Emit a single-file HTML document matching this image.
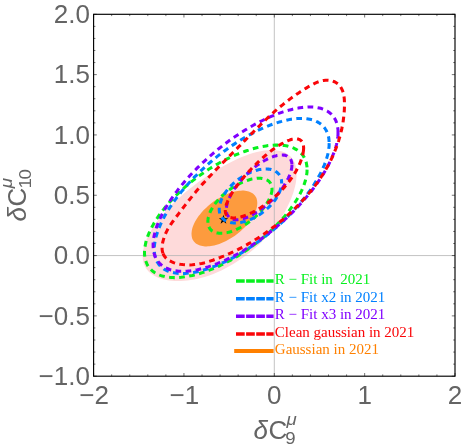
<!DOCTYPE html>
<html><head><meta charset="utf-8"><title>fit contours</title>
<style>html,body{margin:0;padding:0;background:#fff;overflow:hidden}svg{display:block;will-change:transform}</style>
</head><body>
<svg width="463" height="448" viewBox="0 0 463 448">
<rect width="463" height="448" fill="#fff"/>
<path d="M296.4 178.3 L296.1 181.1 L295.6 184.0 L294.9 186.9 L294.1 189.9 L293.2 192.9 L292.1 196.0 L290.9 199.2 L289.5 202.3 L288.0 205.6 L286.4 208.8 L284.6 212.2 L282.6 215.5 L280.5 218.9 L278.1 222.3 L275.7 225.8 L273.0 229.2 L270.1 232.7 L267.1 236.1 L263.9 239.5 L260.6 242.9 L257.1 246.2 L253.4 249.4 L249.7 252.5 L245.8 255.5 L241.8 258.4 L237.8 261.1 L233.7 263.7 L229.6 266.1 L225.5 268.3 L221.4 270.4 L217.3 272.2 L213.3 273.9 L209.3 275.4 L205.4 276.7 L201.6 277.8 L197.9 278.7 L194.3 279.5 L190.8 280.1 L187.4 280.5 L184.1 280.8 L180.9 281.0 L177.8 281.0 L174.8 280.9 L171.9 280.7 L169.1 280.4 L166.4 279.9 L163.8 279.4 L161.2 278.7 L158.9 277.9 L156.6 276.9 L154.4 275.8 L152.4 274.6 L150.5 273.2 L148.8 271.7 L147.3 270.0 L145.9 268.1 L144.8 266.1 L143.9 263.9 L143.2 261.5 L142.8 258.9 L142.6 256.2 L142.8 253.4 L143.1 250.4 L143.8 247.3 L144.7 244.1 L146.0 240.8 L147.4 237.4 L149.2 233.9 L151.1 230.4 L153.3 226.9 L155.7 223.4 L158.3 219.9 L161.1 216.4 L164.0 213.0 L167.1 209.6 L170.3 206.3 L173.6 203.0 L176.9 199.8 L180.4 196.7 L183.9 193.6 L187.5 190.6 L191.1 187.7 L194.7 184.9 L198.4 182.1 L202.2 179.5 L205.9 176.9 L209.7 174.3 L213.6 171.9 L217.5 169.5 L221.4 167.2 L225.3 165.0 L229.3 162.9 L233.2 160.9 L237.2 159.0 L241.2 157.3 L245.2 155.7 L249.1 154.3 L253.0 153.1 L256.9 152.1 L260.6 151.3 L264.2 150.6 L267.8 150.3 L271.1 150.1 L274.4 150.2 L277.4 150.5 L280.2 151.0 L282.9 151.8 L285.3 152.8 L287.4 154.1 L289.4 155.5 L291.1 157.1 L292.5 158.9 L293.8 160.9 L294.8 163.1 L295.5 165.3 L296.1 167.7 L296.4 170.2 L296.6 172.8 L296.6 175.5Z" fill="#fedada"/>
<path d="M257.3 203.1 L257.2 204.4 L257.1 205.6 L256.9 206.9 L256.6 208.3 L256.2 209.7 L255.7 211.1 L255.1 212.5 L254.4 213.9 L253.7 215.4 L252.9 216.8 L252.0 218.3 L251.0 219.7 L250.0 221.2 L248.8 222.6 L247.7 224.1 L246.4 225.5 L245.1 226.9 L243.7 228.3 L242.3 229.6 L240.8 231.0 L239.3 232.2 L237.8 233.5 L236.2 234.7 L234.6 235.9 L232.9 237.0 L231.2 238.1 L229.5 239.1 L227.8 240.0 L226.1 240.9 L224.4 241.8 L222.7 242.5 L221.0 243.2 L219.3 243.9 L217.6 244.5 L215.9 245.0 L214.2 245.4 L212.6 245.7 L211.0 246.0 L209.5 246.2 L208.0 246.3 L206.5 246.4 L205.1 246.4 L203.7 246.3 L202.4 246.1 L201.1 245.8 L200.0 245.5 L198.8 245.1 L197.8 244.6 L196.8 244.1 L195.9 243.5 L195.1 242.8 L194.4 242.0 L193.7 241.2 L193.1 240.3 L192.6 239.4 L192.2 238.4 L191.9 237.3 L191.7 236.2 L191.6 235.1 L191.5 233.9 L191.6 232.6 L191.7 231.4 L191.9 230.1 L192.2 228.7 L192.6 227.3 L193.1 225.9 L193.7 224.5 L194.4 223.1 L195.1 221.6 L195.9 220.2 L196.8 218.7 L197.8 217.3 L198.8 215.8 L200.0 214.4 L201.1 212.9 L202.4 211.5 L203.7 210.1 L205.1 208.7 L206.5 207.4 L208.0 206.0 L209.5 204.8 L211.0 203.5 L212.6 202.3 L214.2 201.1 L215.9 200.0 L217.6 198.9 L219.3 197.9 L221.0 197.0 L222.7 196.1 L224.4 195.2 L226.1 194.5 L227.8 193.8 L229.5 193.1 L231.2 192.5 L232.9 192.0 L234.6 191.6 L236.2 191.3 L237.8 191.0 L239.3 190.8 L240.8 190.7 L242.3 190.6 L243.7 190.6 L245.1 190.7 L246.4 190.9 L247.7 191.2 L248.8 191.5 L250.0 191.9 L251.0 192.4 L252.0 192.9 L252.9 193.5 L253.7 194.2 L254.4 195.0 L255.1 195.8 L255.7 196.7 L256.2 197.6 L256.6 198.6 L256.9 199.7 L257.1 200.8 L257.2 201.9Z" fill="#fd9b3e"/>
<path d="M274.30 14.3 V376.2 M93.6 255.57 H455.0" stroke="#b4b4b4" stroke-width="0.8" fill="none"/>
<polygon points="223.50,214.80 224.62,218.16 228.16,218.19 225.31,220.29 226.38,223.66 223.50,221.60 220.62,223.66 221.69,220.29 218.84,218.19 222.38,218.16" fill="#000"/>
<g fill="none" stroke-width="3.05" stroke-dasharray="5.7 4.4">
<path d="M307.1 169.6 L307.0 170.9 L307.0 172.3 L306.8 173.8 L306.6 175.2 L306.3 176.7 L306.0 178.2 L305.6 179.7 L305.2 181.3 L304.7 182.8 L304.2 184.4 L303.6 186.0 L302.9 187.6 L302.2 189.3 L301.5 190.9 L300.7 192.6 L299.8 194.2 L298.9 195.9 L298.0 197.6 L297.0 199.3 L295.9 201.0 L294.8 202.7 L293.7 204.5 L292.5 206.2 L291.2 207.9 L289.9 209.7 L288.6 211.4 L287.3 213.1 L285.9 214.8 L284.4 216.6 L282.9 218.3 L281.4 220.0 L279.8 221.7 L278.2 223.4 L276.6 225.1 L274.9 226.8 L273.2 228.5 L271.5 230.1 L269.7 231.8 L267.9 233.4 L266.1 235.0 L264.3 236.6 L262.4 238.2 L260.5 239.8 L258.6 241.4 L256.6 242.9 L254.7 244.4 L252.7 245.9 L250.7 247.4 L248.6 248.8 L246.6 250.2 L244.5 251.6 L242.5 253.0 L240.4 254.3 L238.3 255.6 L236.2 256.9 L234.1 258.2 L232.0 259.4 L229.8 260.6 L227.7 261.7 L225.6 262.8 L223.5 263.9 L221.3 265.0 L219.2 266.0 L217.1 266.9 L215.0 267.9 L212.8 268.8 L210.7 269.6 L208.7 270.4 L206.6 271.2 L204.5 271.9 L202.4 272.6 L200.4 273.3 L198.4 273.9 L196.4 274.4 L194.4 274.9 L192.4 275.4 L190.5 275.8 L188.6 276.2 L186.7 276.5 L184.8 276.8 L183.0 277.1 L181.2 277.3 L179.4 277.4 L177.7 277.5 L176.0 277.6 L174.3 277.6 L172.7 277.5 L171.1 277.4 L169.5 277.3 L168.0 277.1 L166.6 276.9 L165.1 276.7 L163.7 276.3 L162.4 276.0 L161.1 275.6 L159.8 275.1 L158.6 274.6 L157.4 274.1 L156.3 273.5 L155.2 272.9 L154.2 272.3 L153.2 271.6 L152.3 270.8 L151.4 270.0 L150.6 269.2 L149.8 268.4 L149.1 267.5 L148.4 266.5 L147.8 265.6 L147.2 264.5 L146.7 263.5 L146.3 262.4 L145.9 261.3 L145.5 260.2 L145.2 259.0 L145.0 257.8 L144.8 256.5 L144.6 255.3 L144.5 253.9 L144.5 252.6 L144.5 251.3 L144.6 249.9 L144.7 248.5 L144.9 247.0 L145.2 245.6 L145.5 244.1 L145.8 242.6 L146.2 241.0 L146.7 239.5 L147.2 237.9 L147.7 236.3 L148.4 234.7 L149.0 233.1 L149.8 231.5 L150.5 229.8 L151.4 228.1 L152.2 226.5 L153.2 224.8 L154.1 223.1 L155.2 221.4 L156.2 219.6 L157.4 217.9 L158.5 216.2 L159.7 214.5 L161.0 212.7 L162.3 211.0 L163.7 209.3 L165.1 207.5 L166.5 205.8 L168.0 204.1 L169.5 202.3 L171.1 200.6 L172.7 198.9 L174.3 197.2 L176.0 195.5 L177.7 193.8 L179.4 192.1 L181.2 190.5 L183.0 188.8 L184.9 187.2 L186.7 185.6 L188.6 184.0 L190.5 182.4 L192.5 180.9 L194.4 179.4 L196.4 177.9 L198.4 176.4 L200.4 174.9 L202.5 173.5 L204.5 172.1 L206.6 170.7 L208.7 169.3 L210.8 168.0 L212.9 166.7 L215.0 165.5 L217.1 164.2 L219.2 163.0 L221.3 161.9 L223.5 160.7 L225.6 159.6 L227.7 158.6 L229.8 157.6 L232.0 156.6 L234.1 155.6 L236.2 154.7 L238.3 153.8 L240.4 153.0 L242.5 152.2 L244.5 151.5 L246.6 150.7 L248.6 150.1 L250.7 149.4 L252.7 148.8 L254.7 148.3 L256.6 147.8 L258.6 147.3 L260.5 146.9 L262.4 146.5 L264.3 146.2 L266.1 145.9 L268.0 145.6 L269.8 145.4 L271.5 145.3 L273.3 145.2 L275.0 145.1 L276.7 145.1 L278.3 145.1 L279.9 145.1 L281.5 145.2 L283.0 145.4 L284.5 145.6 L286.0 145.8 L287.4 146.1 L288.8 146.5 L290.1 146.8 L291.4 147.2 L292.6 147.7 L293.8 148.2 L295.0 148.8 L296.1 149.4 L297.1 150.0 L298.1 150.7 L299.1 151.4 L300.0 152.2 L300.8 153.0 L301.6 153.8 L302.4 154.7 L303.1 155.6 L303.7 156.6 L304.3 157.6 L304.8 158.6 L305.3 159.7 L305.7 160.8 L306.1 162.0 L306.4 163.2 L306.6 164.4 L306.8 165.6 L307.0 166.9 L307.1 168.2Z" stroke="#06f01e"/>
<path d="M272.0 189.2 L272.0 189.8 L271.9 190.4 L271.9 191.0 L271.8 191.7 L271.6 192.3 L271.5 193.0 L271.3 193.6 L271.2 194.3 L271.0 194.9 L270.7 195.6 L270.5 196.3 L270.2 197.0 L269.9 197.7 L269.6 198.4 L269.3 199.1 L268.9 199.8 L268.5 200.5 L268.1 201.2 L267.7 201.9 L267.3 202.7 L266.9 203.4 L266.4 204.1 L265.9 204.8 L265.4 205.5 L264.9 206.3 L264.4 207.0 L263.8 207.7 L263.3 208.4 L262.7 209.1 L262.1 209.8 L261.5 210.5 L260.9 211.2 L260.3 211.9 L259.6 212.6 L259.0 213.3 L258.3 214.0 L257.6 214.7 L256.9 215.3 L256.2 216.0 L255.5 216.7 L254.8 217.3 L254.0 218.0 L253.3 218.6 L252.6 219.2 L251.8 219.9 L251.0 220.5 L250.2 221.1 L249.5 221.7 L248.7 222.2 L247.9 222.8 L247.1 223.4 L246.3 223.9 L245.4 224.5 L244.6 225.0 L243.8 225.5 L243.0 226.0 L242.1 226.5 L241.3 227.0 L240.4 227.5 L239.6 227.9 L238.8 228.3 L237.9 228.7 L237.1 229.1 L236.2 229.5 L235.4 229.9 L234.6 230.3 L233.7 230.6 L232.9 230.9 L232.1 231.2 L231.3 231.5 L230.5 231.7 L229.7 232.0 L228.8 232.2 L228.1 232.4 L227.3 232.6 L226.5 232.7 L225.7 232.9 L225.0 233.0 L224.2 233.1 L223.5 233.2 L222.8 233.3 L222.1 233.3 L221.4 233.3 L220.7 233.3 L220.0 233.3 L219.4 233.3 L218.7 233.2 L218.1 233.1 L217.5 233.0 L216.9 232.9 L216.4 232.8 L215.8 232.6 L215.3 232.5 L214.7 232.3 L214.2 232.1 L213.8 231.8 L213.3 231.6 L212.8 231.3 L212.4 231.1 L212.0 230.8 L211.6 230.5 L211.2 230.1 L210.9 229.8 L210.5 229.4 L210.2 229.1 L209.9 228.7 L209.7 228.3 L209.4 227.8 L209.2 227.4 L208.9 227.0 L208.7 226.5 L208.6 226.0 L208.4 225.6 L208.3 225.1 L208.2 224.5 L208.1 224.0 L208.0 223.5 L207.9 222.9 L207.9 222.4 L207.9 221.8 L207.9 221.2 L207.9 220.7 L207.9 220.1 L208.0 219.5 L208.1 218.8 L208.2 218.2 L208.3 217.6 L208.5 216.9 L208.6 216.3 L208.8 215.6 L209.0 215.0 L209.3 214.3 L209.5 213.6 L209.8 212.9 L210.1 212.2 L210.4 211.5 L210.7 210.8 L211.1 210.1 L211.5 209.4 L211.9 208.7 L212.3 208.0 L212.7 207.3 L213.2 206.5 L213.6 205.8 L214.1 205.1 L214.6 204.4 L215.2 203.7 L215.7 202.9 L216.3 202.2 L216.9 201.5 L217.5 200.8 L218.1 200.1 L218.7 199.4 L219.3 198.7 L220.0 198.0 L220.7 197.3 L221.4 196.6 L222.1 195.9 L222.8 195.2 L223.5 194.6 L224.3 193.9 L225.0 193.3 L225.8 192.6 L226.5 192.0 L227.3 191.4 L228.1 190.8 L228.9 190.2 L229.7 189.6 L230.5 189.0 L231.3 188.5 L232.1 187.9 L233.0 187.4 L233.8 186.9 L234.6 186.3 L235.4 185.9 L236.3 185.4 L237.1 184.9 L237.9 184.5 L238.8 184.0 L239.6 183.6 L240.4 183.2 L241.3 182.8 L242.1 182.4 L242.9 182.1 L243.8 181.7 L244.6 181.4 L245.4 181.1 L246.2 180.8 L247.0 180.5 L247.8 180.2 L248.6 180.0 L249.4 179.7 L250.2 179.5 L251.0 179.3 L251.8 179.1 L252.5 179.0 L253.3 178.8 L254.1 178.7 L254.8 178.6 L255.5 178.5 L256.3 178.4 L257.0 178.3 L257.7 178.3 L258.4 178.3 L259.0 178.3 L259.7 178.3 L260.4 178.3 L261.0 178.3 L261.6 178.4 L262.3 178.5 L262.9 178.6 L263.4 178.7 L264.0 178.8 L264.6 179.0 L265.1 179.2 L265.6 179.4 L266.1 179.6 L266.6 179.8 L267.1 180.0 L267.5 180.3 L268.0 180.6 L268.4 180.9 L268.8 181.2 L269.1 181.6 L269.5 181.9 L269.8 182.3 L270.1 182.7 L270.4 183.1 L270.7 183.5 L270.9 184.0 L271.1 184.4 L271.3 184.9 L271.5 185.4 L271.6 185.9 L271.7 186.4 L271.8 186.9 L271.9 187.5 L272.0 188.1 L272.0 188.6Z" stroke="#06f01e"/>
<path d="M329.2 143.2 L329.1 144.7 L329.1 146.2 L328.9 147.8 L328.7 149.4 L328.5 151.0 L328.1 152.7 L327.8 154.4 L327.3 156.1 L326.8 157.9 L326.3 159.6 L325.7 161.4 L325.0 163.3 L324.3 165.1 L323.5 167.0 L322.6 168.9 L321.7 170.8 L320.8 172.7 L319.8 174.6 L318.7 176.6 L317.6 178.6 L316.5 180.6 L315.2 182.5 L314.0 184.6 L312.7 186.6 L311.3 188.6 L309.9 190.6 L308.4 192.6 L306.9 194.7 L305.4 196.7 L303.8 198.7 L302.1 200.8 L300.4 202.8 L298.7 204.8 L296.9 206.8 L295.1 208.8 L293.3 210.8 L291.4 212.8 L289.5 214.8 L287.6 216.8 L285.6 218.7 L283.6 220.6 L281.6 222.6 L279.5 224.4 L277.4 226.3 L275.3 228.2 L273.2 230.0 L271.0 231.8 L268.9 233.6 L266.7 235.4 L264.5 237.1 L262.3 238.8 L260.0 240.5 L257.8 242.1 L255.5 243.7 L253.3 245.3 L251.0 246.8 L248.7 248.3 L246.4 249.8 L244.1 251.2 L241.9 252.6 L239.6 254.0 L237.3 255.3 L235.0 256.6 L232.7 257.8 L230.5 259.0 L228.2 260.2 L226.0 261.3 L223.7 262.3 L221.5 263.4 L219.3 264.3 L217.1 265.3 L214.9 266.2 L212.7 267.0 L210.6 267.8 L208.5 268.5 L206.4 269.2 L204.3 269.8 L202.2 270.4 L200.2 271.0 L198.2 271.5 L196.2 271.9 L194.3 272.3 L192.4 272.6 L190.5 272.9 L188.7 273.1 L186.9 273.3 L185.1 273.4 L183.4 273.5 L181.7 273.5 L180.0 273.5 L178.4 273.4 L176.9 273.3 L175.3 273.1 L173.9 272.8 L172.4 272.5 L171.1 272.2 L169.7 271.8 L168.4 271.3 L167.2 270.8 L166.0 270.2 L164.9 269.6 L163.8 269.0 L162.8 268.2 L161.8 267.5 L160.9 266.7 L160.1 265.8 L159.3 264.9 L158.5 263.9 L157.9 262.9 L157.2 261.9 L156.7 260.8 L156.2 259.6 L155.7 258.4 L155.3 257.2 L155.0 255.9 L154.7 254.6 L154.5 253.2 L154.4 251.8 L154.3 250.4 L154.3 248.9 L154.3 247.4 L154.4 245.9 L154.6 244.3 L154.8 242.7 L155.1 241.0 L155.4 239.4 L155.8 237.6 L156.3 235.9 L156.8 234.2 L157.4 232.4 L158.0 230.6 L158.7 228.7 L159.5 226.9 L160.3 225.0 L161.1 223.1 L162.1 221.2 L163.0 219.3 L164.0 217.3 L165.1 215.3 L166.2 213.4 L167.4 211.4 L168.6 209.4 L169.9 207.4 L171.3 205.4 L172.6 203.4 L174.0 201.4 L175.5 199.3 L177.0 197.3 L178.6 195.3 L180.2 193.3 L181.8 191.2 L183.5 189.2 L185.2 187.2 L187.0 185.2 L188.7 183.2 L190.6 181.2 L192.4 179.2 L194.3 177.2 L196.3 175.3 L198.2 173.3 L200.2 171.4 L202.2 169.5 L204.3 167.6 L206.4 165.7 L208.4 163.9 L210.6 162.0 L212.7 160.2 L214.9 158.4 L217.0 156.6 L219.2 154.9 L221.5 153.2 L223.7 151.5 L225.9 149.9 L228.2 148.2 L230.4 146.6 L232.7 145.1 L235.0 143.6 L237.3 142.1 L239.6 140.6 L241.9 139.2 L244.2 137.9 L246.4 136.5 L248.7 135.2 L251.0 134.0 L253.3 132.8 L255.6 131.6 L257.8 130.5 L260.1 129.4 L262.3 128.4 L264.5 127.4 L266.7 126.5 L268.9 125.6 L271.1 124.8 L273.2 124.0 L275.4 123.3 L277.5 122.6 L279.5 121.9 L281.6 121.4 L283.6 120.8 L285.6 120.4 L287.6 119.9 L289.5 119.6 L291.4 119.2 L293.3 119.0 L295.1 118.8 L296.9 118.6 L298.7 118.5 L300.4 118.4 L302.1 118.4 L303.7 118.5 L305.3 118.6 L306.8 118.8 L308.3 119.0 L309.8 119.3 L311.2 119.6 L312.5 119.9 L313.9 120.4 L315.1 120.8 L316.3 121.4 L317.5 121.9 L318.6 122.6 L319.7 123.2 L320.7 124.0 L321.6 124.7 L322.5 125.6 L323.3 126.4 L324.1 127.3 L324.9 128.3 L325.5 129.3 L326.2 130.4 L326.7 131.5 L327.2 132.6 L327.7 133.8 L328.1 135.0 L328.4 136.3 L328.7 137.6 L328.9 138.9 L329.0 140.3 L329.1 141.8Z" stroke="#0080ff"/>
<path d="M281.6 182.7 L281.6 183.3 L281.6 184.0 L281.5 184.6 L281.5 185.2 L281.4 185.9 L281.2 186.6 L281.1 187.2 L280.9 187.9 L280.8 188.6 L280.6 189.3 L280.3 189.9 L280.1 190.6 L279.8 191.3 L279.6 192.0 L279.2 192.7 L278.9 193.4 L278.6 194.1 L278.2 194.8 L277.8 195.5 L277.4 196.3 L277.0 197.0 L276.6 197.7 L276.1 198.4 L275.7 199.1 L275.2 199.8 L274.7 200.5 L274.1 201.2 L273.6 201.9 L273.1 202.6 L272.5 203.2 L271.9 203.9 L271.3 204.6 L270.7 205.3 L270.1 205.9 L269.4 206.6 L268.8 207.2 L268.1 207.8 L267.4 208.5 L266.7 209.1 L266.0 209.7 L265.3 210.3 L264.6 210.9 L263.9 211.5 L263.1 212.1 L262.4 212.6 L261.6 213.2 L260.8 213.7 L260.1 214.2 L259.3 214.8 L258.5 215.3 L257.7 215.7 L256.9 216.2 L256.1 216.7 L255.3 217.1 L254.5 217.6 L253.7 218.0 L252.9 218.4 L252.1 218.8 L251.2 219.1 L250.4 219.5 L249.6 219.8 L248.8 220.1 L248.0 220.4 L247.2 220.7 L246.4 221.0 L245.6 221.3 L244.7 221.5 L243.9 221.7 L243.2 221.9 L242.4 222.1 L241.6 222.3 L240.8 222.4 L240.0 222.5 L239.3 222.7 L238.5 222.8 L237.8 222.8 L237.0 222.9 L236.3 222.9 L235.6 222.9 L234.8 222.9 L234.1 222.9 L233.5 222.9 L232.8 222.8 L232.1 222.8 L231.5 222.7 L230.8 222.6 L230.2 222.4 L229.6 222.3 L229.0 222.1 L228.4 222.0 L227.8 221.8 L227.3 221.5 L226.7 221.3 L226.2 221.1 L225.7 220.8 L225.2 220.5 L224.7 220.2 L224.3 219.9 L223.8 219.5 L223.4 219.2 L223.0 218.8 L222.6 218.4 L222.3 218.0 L221.9 217.6 L221.6 217.2 L221.3 216.8 L221.0 216.3 L220.8 215.8 L220.5 215.3 L220.3 214.8 L220.1 214.3 L219.9 213.8 L219.8 213.3 L219.6 212.7 L219.5 212.2 L219.4 211.6 L219.3 211.0 L219.3 210.4 L219.3 209.8 L219.2 209.2 L219.3 208.6 L219.3 208.0 L219.3 207.3 L219.4 206.7 L219.5 206.0 L219.6 205.4 L219.8 204.7 L219.9 204.0 L220.1 203.3 L220.3 202.7 L220.5 202.0 L220.8 201.3 L221.0 200.6 L221.3 199.9 L221.6 199.2 L221.9 198.5 L222.3 197.8 L222.6 197.1 L223.0 196.4 L223.4 195.7 L223.8 195.0 L224.3 194.3 L224.7 193.5 L225.2 192.8 L225.7 192.1 L226.2 191.4 L226.7 190.7 L227.3 190.1 L227.8 189.4 L228.4 188.7 L229.0 188.0 L229.6 187.3 L230.2 186.7 L230.8 186.0 L231.4 185.4 L232.1 184.7 L232.8 184.1 L233.4 183.4 L234.1 182.8 L234.8 182.2 L235.6 181.6 L236.3 181.0 L237.0 180.4 L237.7 179.9 L238.5 179.3 L239.3 178.7 L240.0 178.2 L240.8 177.7 L241.6 177.2 L242.4 176.7 L243.2 176.2 L243.9 175.7 L244.7 175.2 L245.6 174.8 L246.4 174.4 L247.2 173.9 L248.0 173.5 L248.8 173.2 L249.6 172.8 L250.4 172.4 L251.2 172.1 L252.1 171.8 L252.9 171.5 L253.7 171.2 L254.5 170.9 L255.3 170.7 L256.1 170.4 L256.9 170.2 L257.7 170.0 L258.5 169.8 L259.3 169.6 L260.1 169.5 L260.8 169.4 L261.6 169.3 L262.4 169.2 L263.1 169.1 L263.9 169.0 L264.6 169.0 L265.3 169.0 L266.0 169.0 L266.7 169.0 L267.4 169.0 L268.1 169.1 L268.8 169.1 L269.4 169.2 L270.1 169.3 L270.7 169.5 L271.3 169.6 L271.9 169.8 L272.5 170.0 L273.1 170.2 L273.6 170.4 L274.1 170.6 L274.7 170.9 L275.2 171.1 L275.7 171.4 L276.1 171.7 L276.6 172.0 L277.0 172.4 L277.4 172.7 L277.8 173.1 L278.2 173.5 L278.6 173.9 L278.9 174.3 L279.3 174.7 L279.6 175.2 L279.8 175.6 L280.1 176.1 L280.3 176.6 L280.6 177.1 L280.8 177.6 L280.9 178.1 L281.1 178.6 L281.2 179.2 L281.4 179.8 L281.5 180.3 L281.5 180.9 L281.6 181.5 L281.6 182.1Z" stroke="#0080ff" stroke-dashoffset="5"/>
<path d="M338.0 132.9 L338.0 134.5 L337.9 136.2 L337.7 137.8 L337.5 139.5 L337.1 141.3 L336.8 143.0 L336.4 144.8 L335.9 146.6 L335.3 148.5 L334.7 150.4 L334.1 152.3 L333.3 154.2 L332.5 156.2 L331.7 158.1 L330.8 160.1 L329.8 162.2 L328.8 164.2 L327.8 166.2 L326.6 168.3 L325.5 170.4 L324.2 172.5 L322.9 174.6 L321.6 176.7 L320.2 178.8 L318.8 180.9 L317.3 183.1 L315.8 185.2 L314.2 187.4 L312.6 189.5 L310.9 191.7 L309.2 193.8 L307.4 195.9 L305.6 198.1 L303.8 200.2 L301.9 202.4 L299.9 204.5 L298.0 206.6 L296.0 208.7 L293.9 210.8 L291.9 212.8 L289.8 214.9 L287.6 217.0 L285.5 219.0 L283.3 221.0 L281.1 223.0 L278.8 224.9 L276.5 226.9 L274.3 228.8 L271.9 230.7 L269.6 232.5 L267.3 234.3 L264.9 236.1 L262.5 237.9 L260.1 239.6 L257.7 241.3 L255.3 243.0 L252.9 244.6 L250.5 246.2 L248.1 247.7 L245.6 249.2 L243.2 250.7 L240.8 252.1 L238.4 253.5 L236.0 254.8 L233.6 256.1 L231.2 257.3 L228.8 258.5 L226.4 259.6 L224.0 260.7 L221.7 261.7 L219.4 262.7 L217.1 263.7 L214.8 264.5 L212.5 265.4 L210.3 266.1 L208.0 266.9 L205.9 267.5 L203.7 268.1 L201.6 268.7 L199.5 269.2 L197.4 269.7 L195.4 270.1 L193.4 270.4 L191.4 270.7 L189.5 270.9 L187.6 271.1 L185.7 271.2 L183.9 271.3 L182.2 271.3 L180.5 271.3 L178.8 271.2 L177.2 271.0 L175.6 270.8 L174.0 270.6 L172.5 270.2 L171.1 269.9 L169.7 269.5 L168.4 269.0 L167.1 268.4 L165.8 267.9 L164.7 267.2 L163.5 266.5 L162.4 265.8 L161.4 265.0 L160.5 264.2 L159.6 263.3 L158.7 262.3 L157.9 261.4 L157.2 260.3 L156.5 259.2 L155.9 258.1 L155.3 256.9 L154.8 255.7 L154.4 254.4 L154.0 253.1 L153.7 251.7 L153.5 250.3 L153.3 248.9 L153.2 247.4 L153.1 245.9 L153.1 244.3 L153.2 242.7 L153.3 241.0 L153.5 239.4 L153.8 237.6 L154.1 235.9 L154.5 234.1 L155.0 232.3 L155.5 230.4 L156.1 228.6 L156.7 226.6 L157.4 224.7 L158.2 222.8 L159.1 220.8 L159.9 218.8 L160.9 216.7 L161.9 214.7 L163.0 212.6 L164.1 210.6 L165.3 208.5 L166.5 206.4 L167.8 204.2 L169.2 202.1 L170.6 200.0 L172.1 197.8 L173.6 195.7 L175.1 193.5 L176.8 191.4 L178.4 189.2 L180.1 187.1 L181.9 184.9 L183.7 182.7 L185.5 180.6 L187.4 178.5 L189.3 176.3 L191.2 174.2 L193.2 172.1 L195.3 170.0 L197.3 167.9 L199.4 165.9 L201.5 163.8 L203.7 161.8 L205.9 159.8 L208.1 157.8 L210.3 155.8 L212.6 153.9 L214.8 152.0 L217.1 150.1 L219.4 148.2 L221.8 146.4 L224.1 144.6 L226.5 142.8 L228.8 141.0 L231.2 139.3 L233.6 137.6 L236.0 136.0 L238.4 134.4 L240.8 132.8 L243.2 131.3 L245.6 129.8 L248.1 128.3 L250.5 126.9 L252.9 125.5 L255.3 124.2 L257.7 122.9 L260.1 121.7 L262.5 120.5 L264.8 119.3 L267.2 118.2 L269.5 117.2 L271.9 116.2 L274.2 115.2 L276.5 114.3 L278.7 113.4 L281.0 112.6 L283.2 111.9 L285.4 111.2 L287.6 110.5 L289.8 109.9 L291.9 109.4 L294.0 108.9 L296.0 108.4 L298.1 108.1 L300.1 107.7 L302.0 107.5 L303.9 107.3 L305.8 107.1 L307.6 107.0 L309.4 107.0 L311.2 107.0 L312.9 107.1 L314.5 107.2 L316.1 107.4 L317.7 107.7 L319.2 108.0 L320.7 108.3 L322.1 108.8 L323.4 109.2 L324.7 109.8 L325.9 110.4 L327.1 111.0 L328.2 111.7 L329.3 112.5 L330.3 113.3 L331.3 114.2 L332.2 115.1 L333.0 116.0 L333.7 117.1 L334.4 118.1 L335.1 119.2 L335.7 120.4 L336.2 121.6 L336.6 122.9 L337.0 124.2 L337.4 125.5 L337.6 126.9 L337.8 128.4 L338.0 129.9 L338.0 131.4Z" stroke="#8000ff"/>
<path d="M291.9 165.0 L291.9 165.6 L291.9 166.2 L291.8 166.9 L291.8 167.5 L291.7 168.2 L291.5 168.9 L291.4 169.6 L291.2 170.3 L291.0 171.1 L290.8 171.8 L290.6 172.6 L290.3 173.3 L290.1 174.1 L289.8 174.9 L289.4 175.6 L289.1 176.4 L288.7 177.2 L288.4 178.1 L288.0 178.9 L287.5 179.7 L287.1 180.5 L286.6 181.3 L286.2 182.2 L285.7 183.0 L285.2 183.9 L284.6 184.7 L284.1 185.6 L283.5 186.4 L282.9 187.3 L282.3 188.1 L281.7 188.9 L281.1 189.8 L280.4 190.6 L279.8 191.5 L279.1 192.3 L278.4 193.2 L277.7 194.0 L277.0 194.8 L276.3 195.6 L275.5 196.5 L274.8 197.3 L274.0 198.1 L273.2 198.9 L272.5 199.6 L271.7 200.4 L270.9 201.2 L270.1 202.0 L269.3 202.7 L268.4 203.5 L267.6 204.2 L266.8 204.9 L265.9 205.6 L265.1 206.3 L264.2 207.0 L263.4 207.6 L262.5 208.3 L261.7 208.9 L260.8 209.6 L260.0 210.2 L259.1 210.8 L258.3 211.3 L257.4 211.9 L256.5 212.4 L255.7 213.0 L254.8 213.5 L254.0 214.0 L253.1 214.4 L252.3 214.9 L251.5 215.3 L250.6 215.7 L249.8 216.1 L249.0 216.5 L248.2 216.9 L247.4 217.2 L246.6 217.5 L245.8 217.8 L245.0 218.1 L244.2 218.3 L243.5 218.6 L242.7 218.8 L242.0 219.0 L241.2 219.1 L240.5 219.3 L239.8 219.4 L239.1 219.5 L238.5 219.6 L237.8 219.7 L237.2 219.7 L236.5 219.7 L235.9 219.7 L235.3 219.7 L234.7 219.6 L234.2 219.5 L233.6 219.4 L233.1 219.3 L232.6 219.2 L232.1 219.0 L231.6 218.8 L231.1 218.6 L230.7 218.4 L230.3 218.2 L229.9 217.9 L229.5 217.6 L229.1 217.3 L228.8 216.9 L228.5 216.6 L228.2 216.2 L227.9 215.8 L227.6 215.4 L227.4 215.0 L227.2 214.5 L227.0 214.1 L226.8 213.6 L226.7 213.1 L226.6 212.6 L226.5 212.0 L226.4 211.5 L226.3 210.9 L226.3 210.3 L226.3 209.7 L226.3 209.1 L226.3 208.4 L226.4 207.8 L226.5 207.1 L226.6 206.4 L226.7 205.7 L226.8 205.0 L227.0 204.3 L227.2 203.6 L227.4 202.9 L227.6 202.1 L227.9 201.4 L228.2 200.6 L228.5 199.8 L228.8 199.0 L229.1 198.2 L229.5 197.4 L229.9 196.6 L230.3 195.8 L230.7 195.0 L231.1 194.2 L231.6 193.3 L232.1 192.5 L232.6 191.7 L233.1 190.8 L233.6 190.0 L234.2 189.1 L234.7 188.3 L235.3 187.4 L235.9 186.6 L236.5 185.7 L237.2 184.9 L237.8 184.0 L238.5 183.2 L239.1 182.4 L239.8 181.5 L240.5 180.7 L241.2 179.9 L242.0 179.0 L242.7 178.2 L243.5 177.4 L244.2 176.6 L245.0 175.8 L245.8 175.0 L246.6 174.3 L247.4 173.5 L248.2 172.7 L249.0 172.0 L249.8 171.2 L250.6 170.5 L251.5 169.8 L252.3 169.1 L253.1 168.4 L254.0 167.7 L254.8 167.0 L255.7 166.4 L256.5 165.7 L257.4 165.1 L258.3 164.5 L259.1 163.9 L260.0 163.3 L260.8 162.8 L261.7 162.2 L262.5 161.7 L263.4 161.2 L264.2 160.7 L265.1 160.2 L265.9 159.8 L266.8 159.4 L267.6 158.9 L268.4 158.5 L269.2 158.2 L270.1 157.8 L270.9 157.5 L271.7 157.2 L272.5 156.9 L273.2 156.6 L274.0 156.3 L274.8 156.1 L275.5 155.9 L276.3 155.7 L277.0 155.5 L277.7 155.4 L278.4 155.3 L279.1 155.2 L279.8 155.1 L280.4 155.0 L281.1 155.0 L281.7 155.0 L282.3 155.0 L282.9 155.0 L283.5 155.1 L284.1 155.1 L284.6 155.2 L285.1 155.3 L285.7 155.5 L286.2 155.6 L286.6 155.8 L287.1 156.0 L287.5 156.3 L288.0 156.5 L288.4 156.8 L288.7 157.1 L289.1 157.4 L289.4 157.7 L289.8 158.1 L290.1 158.4 L290.3 158.8 L290.6 159.2 L290.8 159.7 L291.0 160.1 L291.2 160.6 L291.4 161.1 L291.5 161.6 L291.7 162.1 L291.8 162.7 L291.8 163.2 L291.9 163.8 L291.9 164.4Z" stroke="#8000ff"/>
<path d="M163.0 253.4 L162.4 251.5 L162.1 249.4 L162.1 247.1 L162.3 244.8 L162.7 242.4 L163.3 240.1 L164.0 237.7 L164.8 235.3 L165.8 233.1 L166.9 230.9 L168.0 228.8 L169.2 226.8 L170.5 224.8 L171.8 222.9 L173.2 221.0 L174.5 219.2 L175.9 217.3 L177.3 215.5 L178.7 213.7 L180.1 211.8 L181.5 210.0 L182.8 208.2 L184.2 206.4 L185.6 204.6 L187.0 202.8 L188.4 201.0 L189.8 199.2 L191.3 197.4 L192.7 195.6 L194.1 193.8 L195.6 192.1 L197.1 190.3 L198.6 188.6 L200.1 186.9 L201.6 185.1 L203.1 183.4 L204.7 181.7 L206.2 180.0 L207.8 178.3 L209.4 176.6 L211.0 175.0 L212.6 173.3 L214.2 171.6 L215.8 169.9 L217.4 168.3 L219.0 166.6 L220.6 165.0 L222.2 163.3 L223.9 161.7 L225.5 160.0 L227.1 158.4 L228.8 156.8 L230.4 155.1 L232.0 153.5 L233.7 151.8 L235.3 150.2 L236.9 148.6 L238.5 146.9 L240.2 145.3 L241.8 143.7 L243.4 142.0 L245.0 140.4 L246.6 138.8 L248.2 137.1 L249.8 135.5 L251.4 133.9 L253.0 132.2 L254.6 130.6 L256.2 129.0 L257.8 127.4 L259.5 125.8 L261.1 124.2 L262.7 122.6 L264.4 121.0 L266.0 119.5 L267.7 117.9 L269.4 116.3 L271.0 114.8 L272.7 113.3 L274.4 111.7 L276.2 110.2 L277.9 108.7 L279.6 107.2 L281.4 105.8 L283.2 104.3 L285.0 102.8 L286.8 101.4 L288.7 100.0 L290.5 98.6 L292.4 97.2 L294.3 95.9 L296.2 94.5 L298.2 93.2 L300.1 91.9 L302.1 90.6 L304.2 89.3 L306.2 88.1 L308.3 86.8 L310.4 85.6 L312.6 84.5 L314.7 83.4 L316.9 82.4 L319.1 81.6 L321.3 80.9 L323.5 80.5 L325.7 80.2 L327.9 80.2 L330.2 80.4 L332.3 80.9 L334.4 81.7 L336.2 82.7 L337.9 83.9 L339.3 85.2 L340.5 86.8 L341.5 88.5 L342.4 90.3 L343.1 92.3 L343.6 94.4 L344.0 96.6 L344.3 98.9 L344.4 101.2 L344.5 103.5 L344.5 105.9 L344.4 108.3 L344.3 110.7 L344.1 113.1 L343.9 115.5 L343.6 117.8 L343.3 120.2 L343.0 122.5 L342.6 124.8 L342.1 127.1 L341.7 129.4 L341.1 131.7 L340.6 133.9 L340.0 136.2 L339.3 138.4 L338.7 140.6 L338.0 142.8 L337.2 145.0 L336.4 147.1 L335.6 149.3 L334.7 151.4 L333.9 153.5 L332.9 155.6 L332.0 157.7 L331.0 159.8 L330.0 161.8 L328.9 163.8 L327.8 165.9 L326.7 167.9 L325.5 169.9 L324.4 171.8 L323.2 173.8 L321.9 175.7 L320.7 177.7 L319.4 179.6 L318.1 181.5 L316.7 183.3 L315.4 185.2 L314.0 187.0 L312.5 188.9 L311.1 190.7 L309.6 192.4 L308.2 194.2 L306.7 196.0 L305.1 197.7 L303.6 199.4 L302.0 201.1 L300.4 202.8 L298.8 204.5 L297.2 206.2 L295.6 207.8 L293.9 209.4 L292.2 211.0 L290.5 212.6 L288.8 214.2 L287.1 215.7 L285.4 217.2 L283.6 218.8 L281.9 220.3 L280.1 221.7 L278.3 223.2 L276.5 224.6 L274.7 226.1 L272.9 227.5 L271.1 228.8 L269.2 230.2 L267.4 231.6 L265.5 232.9 L263.7 234.2 L261.8 235.5 L259.9 236.7 L258.0 238.0 L256.0 239.2 L254.1 240.4 L252.2 241.6 L250.2 242.8 L248.2 243.9 L246.3 245.1 L244.3 246.2 L242.3 247.3 L240.2 248.3 L238.2 249.4 L236.2 250.4 L234.1 251.4 L232.0 252.4 L230.0 253.3 L227.9 254.3 L225.8 255.2 L223.6 256.1 L221.5 256.9 L219.4 257.8 L217.2 258.6 L215.0 259.4 L212.9 260.2 L210.7 260.9 L208.4 261.6 L206.2 262.3 L203.9 262.9 L201.7 263.4 L199.4 263.8 L197.1 264.2 L194.7 264.5 L192.4 264.8 L190.0 264.9 L187.6 264.9 L185.1 264.8 L182.7 264.6 L180.3 264.3 L178.0 263.9 L175.7 263.3 L173.5 262.6 L171.4 261.7 L169.5 260.8 L167.8 259.6 L166.2 258.3 L164.9 256.9 L163.8 255.2Z" stroke="#fa0508"/>
<path d="M303.5 149.7 L303.5 150.3 L303.4 151.0 L303.3 151.7 L303.2 152.4 L303.1 153.1 L302.9 153.9 L302.8 154.6 L302.6 155.3 L302.4 156.1 L302.2 156.9 L302.0 157.7 L301.7 158.5 L301.4 159.3 L301.1 160.1 L300.8 160.9 L300.5 161.8 L300.2 162.7 L299.8 163.5 L299.4 164.4 L299.0 165.3 L298.6 166.2 L298.1 167.2 L297.6 168.1 L297.1 169.1 L296.6 170.0 L296.1 171.0 L295.5 172.0 L294.9 173.0 L294.3 174.0 L293.6 175.1 L292.9 176.1 L292.2 177.1 L291.5 178.2 L290.8 179.2 L290.0 180.3 L289.2 181.3 L288.4 182.4 L287.5 183.4 L286.7 184.5 L285.8 185.6 L284.9 186.6 L284.0 187.7 L283.0 188.7 L282.1 189.7 L281.1 190.8 L280.1 191.8 L279.1 192.8 L278.1 193.8 L277.1 194.8 L276.1 195.7 L275.1 196.7 L274.0 197.6 L273.0 198.5 L271.9 199.4 L270.9 200.3 L269.9 201.1 L268.8 202.0 L267.8 202.8 L266.7 203.5 L265.7 204.3 L264.7 205.0 L263.7 205.8 L262.6 206.4 L261.6 207.1 L260.6 207.8 L259.6 208.4 L258.7 209.0 L257.7 209.5 L256.7 210.1 L255.8 210.6 L254.9 211.1 L253.9 211.6 L253.0 212.1 L252.1 212.5 L251.2 213.0 L250.3 213.4 L249.5 213.7 L248.6 214.1 L247.8 214.5 L246.9 214.8 L246.1 215.1 L245.3 215.4 L244.5 215.7 L243.7 216.0 L242.9 216.2 L242.1 216.4 L241.4 216.7 L240.6 216.9 L239.9 217.1 L239.1 217.2 L238.4 217.4 L237.7 217.5 L237.0 217.6 L236.3 217.7 L235.6 217.8 L235.0 217.9 L234.3 217.9 L233.7 217.9 L233.1 217.9 L232.5 217.9 L231.9 217.8 L231.3 217.7 L230.8 217.6 L230.2 217.5 L229.7 217.4 L229.2 217.2 L228.8 217.0 L228.3 216.7 L227.9 216.5 L227.5 216.2 L227.1 215.8 L226.8 215.5 L226.5 215.1 L226.2 214.7 L226.0 214.2 L225.8 213.7 L225.6 213.2 L225.5 212.7 L225.4 212.1 L225.3 211.5 L225.3 210.8 L225.3 210.2 L225.3 209.5 L225.4 208.7 L225.5 208.0 L225.6 207.2 L225.8 206.4 L226.0 205.6 L226.3 204.7 L226.6 203.9 L226.9 203.0 L227.3 202.1 L227.7 201.1 L228.1 200.2 L228.5 199.2 L229.0 198.3 L229.5 197.3 L230.1 196.3 L230.6 195.3 L231.2 194.3 L231.9 193.2 L232.5 192.2 L233.2 191.2 L233.8 190.2 L234.5 189.1 L235.3 188.1 L236.0 187.1 L236.8 186.0 L237.5 185.0 L238.3 184.0 L239.1 182.9 L239.9 181.9 L240.7 180.9 L241.6 179.9 L242.4 178.9 L243.2 177.9 L244.1 176.8 L245.0 175.8 L245.8 174.9 L246.7 173.9 L247.6 172.9 L248.5 171.9 L249.4 170.9 L250.3 170.0 L251.2 169.0 L252.1 168.0 L253.1 167.1 L254.0 166.1 L254.9 165.2 L255.9 164.3 L256.8 163.3 L257.8 162.4 L258.8 161.5 L259.7 160.6 L260.7 159.7 L261.7 158.8 L262.7 157.9 L263.7 157.0 L264.7 156.1 L265.7 155.2 L266.7 154.4 L267.7 153.5 L268.8 152.7 L269.8 151.9 L270.8 151.1 L271.8 150.3 L272.9 149.5 L273.9 148.8 L274.9 148.0 L276.0 147.3 L277.0 146.6 L278.0 145.9 L279.1 145.3 L280.1 144.7 L281.1 144.1 L282.1 143.5 L283.1 143.0 L284.0 142.4 L285.0 142.0 L285.9 141.5 L286.9 141.1 L287.8 140.7 L288.7 140.4 L289.6 140.1 L290.4 139.8 L291.2 139.5 L292.0 139.3 L292.8 139.2 L293.6 139.0 L294.3 138.9 L295.0 138.9 L295.7 138.9 L296.4 138.9 L297.0 138.9 L297.6 139.0 L298.1 139.1 L298.7 139.3 L299.2 139.4 L299.7 139.6 L300.1 139.9 L300.5 140.2 L300.9 140.5 L301.3 140.8 L301.6 141.1 L301.9 141.5 L302.2 141.9 L302.4 142.4 L302.6 142.8 L302.8 143.3 L303.0 143.8 L303.2 144.3 L303.3 144.8 L303.4 145.4 L303.5 146.0 L303.5 146.5 L303.6 147.1 L303.6 147.7 L303.6 148.4 L303.6 149.0Z" stroke="#fa0508"/>
</g>
<rect x="93.6" y="14.3" width="361.40" height="361.90" fill="none" stroke="#000" stroke-width="1.15"/>
<path d="M93.60 376.2v-3.2M93.60 14.3v3.2M111.67 376.2v-1.8M111.67 14.3v1.8M129.74 376.2v-1.8M129.74 14.3v1.8M147.81 376.2v-1.8M147.81 14.3v1.8M165.88 376.2v-1.8M165.88 14.3v1.8M183.95 376.2v-3.2M183.95 14.3v3.2M202.02 376.2v-1.8M202.02 14.3v1.8M220.09 376.2v-1.8M220.09 14.3v1.8M238.16 376.2v-1.8M238.16 14.3v1.8M256.23 376.2v-1.8M256.23 14.3v1.8M274.30 376.2v-3.2M274.30 14.3v3.2M292.37 376.2v-1.8M292.37 14.3v1.8M310.44 376.2v-1.8M310.44 14.3v1.8M328.51 376.2v-1.8M328.51 14.3v1.8M346.58 376.2v-1.8M346.58 14.3v1.8M364.65 376.2v-3.2M364.65 14.3v3.2M382.72 376.2v-1.8M382.72 14.3v1.8M400.79 376.2v-1.8M400.79 14.3v1.8M418.86 376.2v-1.8M418.86 14.3v1.8M436.93 376.2v-1.8M436.93 14.3v1.8M455.00 376.2v-3.2M455.00 14.3v3.2M93.6 376.20h3.2M455.0 376.20h-3.2M93.6 364.14h1.8M455.0 364.14h-1.8M93.6 352.07h1.8M455.0 352.07h-1.8M93.6 340.01h1.8M455.0 340.01h-1.8M93.6 327.95h1.8M455.0 327.95h-1.8M93.6 315.88h3.2M455.0 315.88h-3.2M93.6 303.82h1.8M455.0 303.82h-1.8M93.6 291.76h1.8M455.0 291.76h-1.8M93.6 279.69h1.8M455.0 279.69h-1.8M93.6 267.63h1.8M455.0 267.63h-1.8M93.6 255.57h3.2M455.0 255.57h-3.2M93.6 243.50h1.8M455.0 243.50h-1.8M93.6 231.44h1.8M455.0 231.44h-1.8M93.6 219.38h1.8M455.0 219.38h-1.8M93.6 207.31h1.8M455.0 207.31h-1.8M93.6 195.25h3.2M455.0 195.25h-3.2M93.6 183.19h1.8M455.0 183.19h-1.8M93.6 171.12h1.8M455.0 171.12h-1.8M93.6 159.06h1.8M455.0 159.06h-1.8M93.6 147.00h1.8M455.0 147.00h-1.8M93.6 134.93h3.2M455.0 134.93h-3.2M93.6 122.87h1.8M455.0 122.87h-1.8M93.6 110.81h1.8M455.0 110.81h-1.8M93.6 98.74h1.8M455.0 98.74h-1.8M93.6 86.68h1.8M455.0 86.68h-1.8M93.6 74.62h3.2M455.0 74.62h-3.2M93.6 62.55h1.8M455.0 62.55h-1.8M93.6 50.49h1.8M455.0 50.49h-1.8M93.6 38.43h1.8M455.0 38.43h-1.8M93.6 26.36h1.8M455.0 26.36h-1.8M93.6 14.30h3.2M455.0 14.30h-3.2" stroke="#000" stroke-width="0.55" fill="none"/>
<line x1="236" y1="281.0" x2="273.6" y2="281.0" stroke="#06f01e" stroke-width="3.6" stroke-dasharray="8.7 1.4"/>
<text x="274.8" y="284.25" font-family="Liberation Serif, serif" font-size="15.0" fill="#06f01e" xml:space="preserve">R − Fit in  2021</text>
<line x1="236" y1="298.8" x2="273.6" y2="298.8" stroke="#0080ff" stroke-width="3.6" stroke-dasharray="8.7 1.4"/>
<text x="274.8" y="302.05" font-family="Liberation Serif, serif" font-size="15.0" fill="#0080ff" xml:space="preserve">R − Fit x2 in 2021</text>
<line x1="236" y1="316.2" x2="273.6" y2="316.2" stroke="#8000ff" stroke-width="3.6" stroke-dasharray="8.7 1.4"/>
<text x="274.8" y="319.45" font-family="Liberation Serif, serif" font-size="15.0" fill="#8000ff" xml:space="preserve">R − Fit x3 in 2021</text>
<line x1="236" y1="334.0" x2="273.6" y2="334.0" stroke="#fa0508" stroke-width="3.6" stroke-dasharray="8.7 1.4"/>
<text x="274.8" y="337.25" font-family="Liberation Serif, serif" font-size="15.0" fill="#fa0508" xml:space="preserve">Clean gaussian in 2021</text>
<line x1="234.2" y1="351.0" x2="273.6" y2="351.0" stroke="#ff8000" stroke-width="3.8"/>
<text x="274.8" y="354.25" font-family="Liberation Serif, serif" font-size="15.0" fill="#ff8000" xml:space="preserve">Gaussian in 2021</text>
<g font-family="Liberation Sans, sans-serif" font-size="26" fill="#646464">
<text x="89.9" y="23.10" text-anchor="end">2.0</text>
<text x="89.9" y="83.42" text-anchor="end">1.5</text>
<text x="89.9" y="143.73" text-anchor="end">1.0</text>
<text x="89.9" y="204.05" text-anchor="end">0.5</text>
<text x="89.9" y="264.37" text-anchor="end">0.0</text>
<text x="89.9" y="324.68" text-anchor="end">−0.5</text>
<text x="89.9" y="385.00" text-anchor="end">−1.0</text>
<text x="94.10" y="403.5" text-anchor="middle">−2</text>
<text x="184.45" y="403.5" text-anchor="middle">−1</text>
<text x="274.30" y="403.5" text-anchor="middle">0</text>
<text x="364.65" y="403.5" text-anchor="middle">1</text>
<text x="455.00" y="403.5" text-anchor="middle">2</text>
</g>
<g font-family="Liberation Sans, sans-serif" fill="#646464" transform="translate(253.6 438.9)"><text x="0" y="0" font-size="26" font-style="italic">δ</text><text x="14.9" y="0" font-size="26">C</text><text transform="translate(31.7 5.4) scale(1.13 1)" font-size="16.5" letter-spacing="0">9</text><text transform="translate(33.0 -13.8) scale(1.13 1)" font-size="16.5" font-style="italic">μ</text></g>
<g font-family="Liberation Sans, sans-serif" fill="#646464" transform="translate(25.7 221.4) rotate(-90)"><text x="0" y="0" font-size="26" font-style="italic">δ</text><text x="14.9" y="0" font-size="26">C</text><text transform="translate(33.0 5.4) scale(1.13 1)" font-size="16.5" letter-spacing="-1.4">10</text><text transform="translate(33.2 -13.8) scale(1.13 1)" font-size="16.5" font-style="italic">μ</text></g>
</svg>
</body></html>
